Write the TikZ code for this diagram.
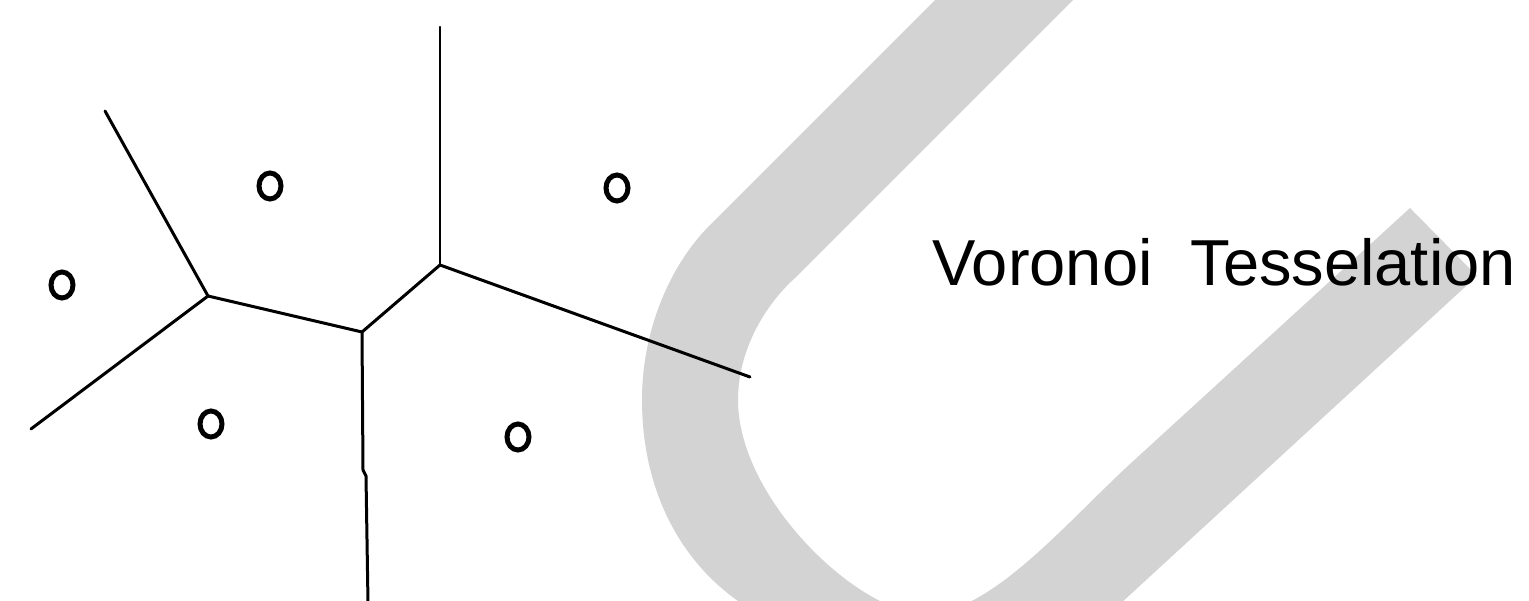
\documentclass[tikz,border=0pt]{standalone}
\usepackage{fontspec}
\setmainfont{Liberation Sans}
\usetikzlibrary{shapes.geometric}
\definecolor{bandgray}{RGB}{211,211,211}
\tikzset{
  site/.style={draw=black, line width=5pt, ellipse, minimum width=22pt, minimum height=26pt, inner sep=0pt},
  vedge/.style={draw=black, line width=3pt, line cap=round, line join=round},
  band/.style={fill=bandgray},
  title/.style={anchor=base west, inner sep=0pt, font=\fontsize{65}{72}\selectfont}
}
\begin{document}
\begin{tikzpicture}[x=1pt,y=-1pt]
\useasboundingbox (0,0) rectangle (1529,601);
\begin{scope}
\clip (0,0) rectangle (1529,601);
\fill[band] (1000,-65) -- (710,225) .. controls (670,265) and (642,330) .. (642,400)
  .. controls (642,490) and (680,560) .. (738,601)
  .. controls (784,634) and (870,712) .. (935,712)
  .. controls (1000,712) and (1060,660) .. (1120,604)
  -- (1477,276) -- (1410,208) -- (1130,464)
  .. controls (1064,525) and (990,614) .. (925,614)
  .. controls (860,614) and (738,500) .. (738,400)
  .. controls (738,350) and (765,305) .. (795,278)
  -- (1140,-67) -- cycle;
\end{scope}
% Voronoi vertices and free ends
\coordinate (A) at (440,265);
\coordinate (B) at (362,332);
\coordinate (C) at (208,296);
\coordinate (T) at (440,27);
\coordinate (E) at (750,377);
\coordinate (K1) at (363,470);
\coordinate (K2) at (366,476);
\coordinate (S) at (368,603);
\coordinate (NW) at (105,111);
\coordinate (SW) at (31,429);
\draw[vedge, line width=2.5pt] (T) -- (A);
\draw[vedge] (A) -- (E);
\draw[vedge] (A) -- (B);
\draw[vedge] (B) -- (K1) -- (K2) -- (S);
\draw[vedge] (B) -- (C);
\draw[vedge] (C) -- (NW);
\draw[vedge] (C) -- (SW);
% sites
\node[site] (s1) at (270,186) {};
\node[site] (s2) at (617,188) {};
\node[site] (s3) at (62,285) {};
\node[site] (s4) at (211,424) {};
\node[site] (s5) at (518,437) {};
% label
\node[title] (lbl) at (932,286) {Voronoi\hspace{38pt}Tesselation};
\end{tikzpicture}
\end{document}
